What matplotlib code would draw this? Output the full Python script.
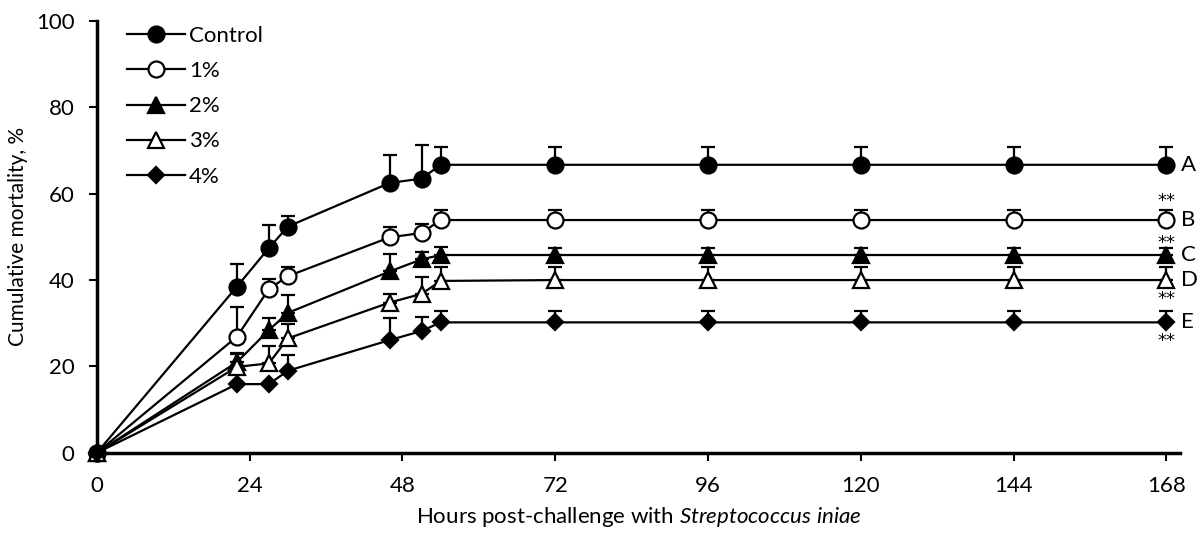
import matplotlib
matplotlib.use("Agg")
import matplotlib.pyplot as plt
import numpy as np

plt.rcParams['font.family'] = ['Lato', 'DejaVu Sans']
plt.rcParams['mathtext.fontset'] = 'custom'
plt.rcParams['mathtext.it'] = 'Lato:italic'
plt.rcParams['mathtext.rm'] = 'Lato'

hours = [0, 22, 27, 30, 46, 51, 54, 72, 96, 120, 144, 168]

series_names = ["Control", "1%", "2%", "3%", "4%"]
control = [0, 38.5, 47.4, 52.4, 62.5, 63.5, 66.7, 66.7, 66.7, 66.7, 66.7, 66.7]
control_err = [0, 5.2, 5.4, 2.5, 6.5, 7.8, 4.2, 4.2, 4.2, 4.2, 4.2, 4.2]
p1 = [0, 26.9, 37.9, 40.9, 49.9, 50.9, 53.9, 53.9, 53.9, 53.9, 53.9, 53.9]
p1_err = [0, 6.8, 2.4, 2.1, 2.3, 2.0, 2.3, 2.3, 2.3, 2.3, 2.3, 2.3]
p2 = [0, 21.0, 28.4, 32.4, 42.0, 44.8, 45.8, 45.8, 45.8, 45.8, 45.8, 45.8]
p2_err = [0, 2.0, 2.9, 4.1, 4.0, 1.8, 1.8, 1.7, 1.7, 1.7, 1.7, 1.7]
p3 = [0, 19.9, 20.7, 26.5, 34.8, 36.8, 39.8, 40.0, 40.0, 40.0, 40.0, 40.0]
p3_err = [0, 3.0, 4.0, 3.3, 2.0, 4.0, 3.3, 3.0, 3.0, 3.0, 3.0, 3.0]
p4 = [0, 15.9, 15.9, 19.0, 26.1, 28.2, 30.2, 30.2, 30.2, 30.2, 30.2, 30.2]
p4_err = [0, 0, 0, 3.6, 5.0, 3.2, 2.7, 2.6, 2.6, 2.6, 2.6, 2.6]

letters = ["A", "B", "C", "D", "E"]
stars = ["", "**", "**", "**", "**"]
star_offsets = [0, 4.3, 2.9, -4.4, -4.3]  # relative to plateau value

values = [control, p1, p2, p3, p4]
errors = [control_err, p1_err, p2_err, p3_err, p4_err]
markers = ['o', 'o', '^', '^', 'D']
faces = ['black', 'white', 'black', 'white', 'black']
msizes = [11.5, 11.5, 12, 12, 8.5]

fig = plt.figure(figsize=(12.03, 5.39), dpi=100)
ax = fig.add_axes([0.0806, 0.160, 0.9, 0.801])

for name, v, e, m, fc, ms in zip(series_names, values, errors, markers, faces, msizes):
    ax.errorbar(hours, v, yerr=[np.zeros(len(e)), e], fmt='none', ecolor='black',
                elinewidth=1.6, capsize=5, capthick=1.6, clip_on=False, zorder=2)
    ax.plot(hours, v, color='black', lw=1.6, marker=m, markerfacecolor=fc,
            markeredgecolor='black', markeredgewidth=1.6, markersize=ms,
            label=name, clip_on=False, zorder=3)

for v, lt, st, so in zip(values, letters, stars, star_offsets):
    ax.text(170.3, v[-1], lt, fontsize=16, va='center', ha='left')
    if st:
        ax.text(hours[-1], v[-1] + so, st, fontsize=13, va='center', ha='center',
                family='DejaVu Sans')

ax.set_xlim(0, 170.1)
ax.set_ylim(0, 100)
ax.set_xticks(np.arange(0, 169, 24))
ax.set_yticks(np.arange(0, 101, 20))
ax.tick_params(axis='both', direction='out', length=6, width=1.5, labelsize=16)
ax.tick_params(axis='x', pad=11)
ax.tick_params(axis='y', pad=10)
for s in ['top', 'right']:
    ax.spines[s].set_visible(False)
for s in ['left', 'bottom']:
    ax.spines[s].set_linewidth(2.5)

ax.set_xlabel(r'Hours post-challenge with $\it{Streptococcus\ iniae}$', fontsize=16, labelpad=6)
ax.set_ylabel('Cumulative mortality, %', fontsize=15, labelpad=6)

leg = ax.legend(loc='upper left', bbox_to_anchor=(0.098, 0.968), bbox_transform=fig.transFigure,
                frameon=False, fontsize=16, handlelength=2.6, handletextpad=0.2,
                labelspacing=0.68, borderaxespad=0)

fig.savefig('out.png', dpi=100)
